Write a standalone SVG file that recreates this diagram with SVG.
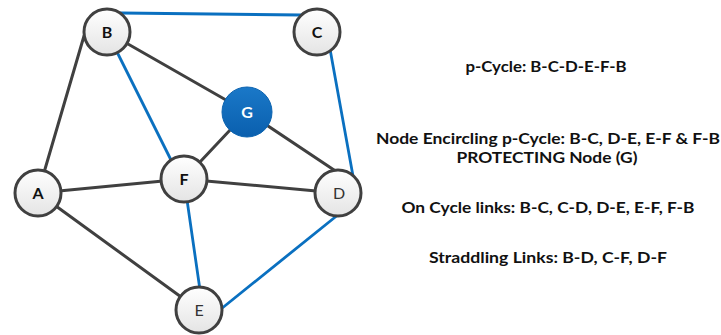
<svg xmlns="http://www.w3.org/2000/svg" width="721" height="335" viewBox="0 0 721 335">
  <defs>
    <linearGradient id="nodeFill" x1="0" y1="0" x2="0" y2="1">
      <stop offset="0" stop-color="#ffffff"/>
      <stop offset="1" stop-color="#e4e4e4"/>
    </linearGradient>
    <linearGradient id="hubFill" x1="0" y1="0" x2="0" y2="1">
      <stop offset="0" stop-color="#1a78c8"/>
      <stop offset="1" stop-color="#0a5fae"/>
    </linearGradient>
    <style>
      .link { stroke: #404040; stroke-width: 3; fill: none; stroke-linecap: round; }
      .cycle { stroke: #0a70c0; stroke-width: 2.8; fill: none; stroke-linecap: round; }
      .node circle { fill: url(#nodeFill); stroke: #404040; stroke-width: 3; }
      .node text { font-family: "Lato", "Open Sans", "Liberation Sans", sans-serif; font-size: 16px; font-weight: bold; fill: #111111; text-anchor: middle; }
      .node text.light { font-weight: normal; fill: #333333; }
      #G circle { fill: url(#hubFill); stroke: #0b63b0; stroke-width: 1; }
      #G text { fill: #ffffff; }
      .note { font-family: "Lato", "Open Sans", "Liberation Sans", sans-serif; font-size: 16px; font-weight: bold; fill: #111111; text-anchor: middle; }
    </style>
  </defs>

  <!-- links: grey = straddling / other spans, blue = p-cycle spans -->
  <g id="connectors">
    <line class="link" x1="84" y1="36" x2="38" y2="193"/>
    <line class="link" x1="107" y1="32" x2="247" y2="112"/>
    <line class="link" x1="247" y1="112" x2="184" y2="179"/>
    <line class="link" x1="247" y1="112" x2="337" y2="172"/>
    <line class="link" x1="38" y1="193" x2="184" y2="179"/>
    <line class="link" x1="184" y1="179" x2="338" y2="193"/>
    <line class="link" x1="38" y1="193" x2="199" y2="310"/>
    <line class="cycle" x1="121" y1="13" x2="301" y2="15"/>
    <line class="cycle" x1="330" y1="49" x2="353" y2="176"/>
    <line class="cycle" x1="107" y1="32" x2="172" y2="162"/>
    <line class="cycle" x1="184" y1="179" x2="200" y2="290"/>
    <line class="cycle" x1="339" y1="214" x2="221" y2="309"/>
  </g>

  <g id="A" class="node"><circle cx="38" cy="193" r="23"/><text x="38" y="199">A</text></g>
  <g id="B" class="node"><circle cx="107" cy="32" r="23"/><text x="107" y="38">B</text></g>
  <g id="C" class="node"><circle cx="317" cy="32" r="23"/><text x="317" y="38">C</text></g>
  <g id="D" class="node"><circle cx="338" cy="193" r="23"/><text class="light" x="339" y="199">D</text></g>
  <g id="E" class="node"><circle cx="199" cy="310" r="23"/><text class="light" x="199" y="316">E</text></g>
  <g id="F" class="node"><circle cx="184" cy="179" r="23"/><text x="184" y="185">F</text></g>
  <g id="G" class="node"><circle cx="247" cy="112" r="25"/><text x="247" y="118">G</text></g>

  <g id="legend">
    <text class="note" x="546" y="72" textLength="161" lengthAdjust="spacingAndGlyphs">p-Cycle: B-C-D-E-F-B</text>
    <text class="note" x="548" y="144" textLength="344" lengthAdjust="spacingAndGlyphs">Node Encircling p-Cycle: B-C, D-E, E-F &amp; F-B</text>
    <text class="note" x="547" y="163" textLength="181" lengthAdjust="spacingAndGlyphs">PROTECTING Node (G)</text>
    <text class="note" x="548" y="213" textLength="293" lengthAdjust="spacingAndGlyphs">On Cycle links: B-C, C-D, D-E, E-F, F-B</text>
    <text class="note" x="548" y="263" textLength="238" lengthAdjust="spacingAndGlyphs">Straddling Links: B-D, C-F, D-F</text>
  </g>
</svg>
